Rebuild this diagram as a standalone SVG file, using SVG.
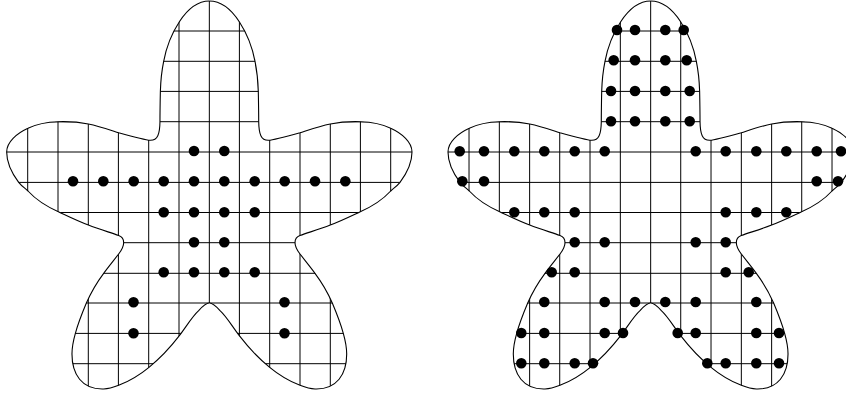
<svg xmlns="http://www.w3.org/2000/svg" xmlns:xlink="http://www.w3.org/1999/xlink" width="846" height="394" viewBox="0 0 846 394">
<style>
.o{fill:none;stroke:#000;stroke-width:1.1}
.g{stroke:#000;stroke-width:1;fill:none}
.d{fill:#000}
</style>
<defs>
<path id="half" d="M209.33 1C221 1 231 9 239.3 21.7C248 35 252.5 48 255 61.3C257 71 258 81 258.3 91.3C258.5 101 258.7 111 258.7 121.7C258.9 134 261 140.5 268.5 140.3C273 140 288 136 300 132.7C310 129.5 320 126 330.3 124C340 122 350 121.4 360.3 121.7C372 122 382 124 390.7 128.3C402 133.5 412 142 412 152C412 163 407 173 400 182.3C397 186 394 188 390.7 191C381 201.5 371 207 360.3 211.7C350 216.5 341 221 330.3 225C320 229 310 232 300 235.5C297 236.5 295 239 295 242.7C295 246 297 250 300 254C305 260.5 310 266.5 315 273.3C321.5 282 327.5 292 332.3 303C336.5 313 340.5 323 343.3 333.3C345.2 340 346.7 347 346.7 354C346.7 374 337 389.7 315 389C310 388.8 305 387.2 300 385.3C289 381 279 375 269.7 367.3C258 358 248 347 239.3 335.7C232 326 226 316 220 310.7C216 306 213 303 209.33 303"/>
<clipPath id="star">
<use xlink:href="#half"/>
<use xlink:href="#half" transform="matrix(-1 0 0 1 418.67 0)"/>
</clipPath>
<g id="figure">
<g clip-path="url(#star)">
<path class="g" d="M27.7 0V394M58 0V394M88.3 0V394M118.4 0V394M148.7 0V394M179 0V394M209.33 0V303M239.4 0V394M269.7 0V394M300 0V394M330.3 0V394M360.4 0V394M390.7 0V394"/>
<path class="g" d="M0 31H420M0 61.3H420M0 91.4H420M0 121.7H420M0 152H420M0 182.4H420M0 212.5H420M0 242.7H420M0 273.3H420M0 303H420M0 333.4H420M0 363.7H420"/>
</g>
<use xlink:href="#half" class="o"/>
<use xlink:href="#half" class="o" transform="matrix(-1 0 0 1 418.67 0)"/>
</g>
</defs>
<g id="left-figure">
<use xlink:href="#figure"/>
<g class="d">
<circle cx="194" cy="151" r="5.3"/><circle cx="224.3" cy="151" r="5.3"/>
<circle cx="73" cy="181.3" r="5.3"/><circle cx="103.3" cy="181.3" r="5.3"/><circle cx="133.7" cy="181.3" r="5.3"/><circle cx="163.7" cy="181.3" r="5.3"/><circle cx="194" cy="181.3" r="5.3"/><circle cx="224.3" cy="181.3" r="5.3"/><circle cx="254.7" cy="181.3" r="5.3"/><circle cx="284.7" cy="181.3" r="5.3"/><circle cx="315" cy="181.3" r="5.3"/><circle cx="345.3" cy="181.3" r="5.3"/>
<circle cx="163.7" cy="212.3" r="5.3"/><circle cx="194" cy="212.3" r="5.3"/><circle cx="224.3" cy="212.3" r="5.3"/><circle cx="254.7" cy="212.3" r="5.3"/>
<circle cx="194" cy="242.3" r="5.3"/><circle cx="224.3" cy="242.3" r="5.3"/>
<circle cx="163.7" cy="272.3" r="5.3"/><circle cx="194" cy="272.3" r="5.3"/><circle cx="224.3" cy="272.3" r="5.3"/><circle cx="254.7" cy="272.3" r="5.3"/>
<circle cx="133.5" cy="302.2" r="5.3"/><circle cx="284.5" cy="302.2" r="5.3"/>
<circle cx="133.5" cy="333.2" r="5.3"/><circle cx="284.5" cy="333.2" r="5.3"/>
</g>
</g>
<g id="right-figure">
<use xlink:href="#figure" x="441.33"/>
<g class="d">
<circle cx="617" cy="30" r="5.3"/><circle cx="635" cy="30" r="5.3"/><circle cx="665.3" cy="30" r="5.3"/><circle cx="683.7" cy="30" r="5.3"/>
<circle cx="613.7" cy="60.3" r="5.3"/><circle cx="635" cy="60.3" r="5.3"/><circle cx="665.3" cy="60.3" r="5.3"/><circle cx="686.7" cy="60.3" r="5.3"/>
<circle cx="611" cy="91" r="5.3"/><circle cx="635" cy="91" r="5.3"/><circle cx="665.3" cy="91" r="5.3"/><circle cx="689.7" cy="91" r="5.3"/>
<circle cx="611" cy="121.3" r="5.3"/><circle cx="635" cy="121.3" r="5.3"/><circle cx="665.3" cy="121.3" r="5.3"/><circle cx="689.7" cy="121.3" r="5.3"/>
<circle cx="459.7" cy="151.3" r="5.3"/><circle cx="484" cy="151.3" r="5.3"/><circle cx="514.3" cy="151.3" r="5.3"/><circle cx="544.3" cy="151.3" r="5.3"/><circle cx="574.7" cy="151.3" r="5.3"/><circle cx="604.7" cy="151.3" r="5.3"/><circle cx="695.7" cy="151.3" r="5.3"/><circle cx="725.7" cy="151.3" r="5.3"/><circle cx="756.3" cy="151.3" r="5.3"/><circle cx="786.3" cy="151.3" r="5.3"/><circle cx="816.7" cy="151.3" r="5.3"/><circle cx="841" cy="151.3" r="5.3"/>
<circle cx="462.3" cy="181.3" r="5.3"/><circle cx="484" cy="181.3" r="5.3"/><circle cx="816.7" cy="181.3" r="5.3"/><circle cx="838" cy="181.3" r="5.3"/>
<circle cx="514.3" cy="212.3" r="5.3"/><circle cx="544.3" cy="212.3" r="5.3"/><circle cx="574.7" cy="212.3" r="5.3"/><circle cx="725.7" cy="212.3" r="5.3"/><circle cx="756.3" cy="212.3" r="5.3"/><circle cx="786.3" cy="212.3" r="5.3"/>
<circle cx="574.7" cy="242.3" r="5.3"/><circle cx="604.7" cy="242.3" r="5.3"/><circle cx="695.7" cy="242.3" r="5.3"/><circle cx="725.7" cy="242.3" r="5.3"/>
<circle cx="551.7" cy="272.3" r="5.3"/><circle cx="574.7" cy="272.3" r="5.3"/><circle cx="725.7" cy="272.3" r="5.3"/><circle cx="748.7" cy="272.3" r="5.3"/>
<circle cx="544.3" cy="302" r="5.3"/><circle cx="604.7" cy="302" r="5.3"/><circle cx="635" cy="302" r="5.3"/><circle cx="665.3" cy="302" r="5.3"/><circle cx="695.7" cy="302" r="5.3"/><circle cx="756.3" cy="302" r="5.3"/>
<circle cx="521.3" cy="333" r="5.3"/><circle cx="544.3" cy="333" r="5.3"/><circle cx="604.7" cy="333" r="5.3"/><circle cx="623" cy="333" r="5.3"/><circle cx="677.7" cy="333" r="5.3"/><circle cx="695.7" cy="333" r="5.3"/><circle cx="756.3" cy="333" r="5.3"/><circle cx="779" cy="333" r="5.3"/>
<circle cx="521.3" cy="363.3" r="5.3"/><circle cx="544.3" cy="363.3" r="5.3"/><circle cx="574.7" cy="363.3" r="5.3"/><circle cx="593" cy="363.3" r="5.3"/><circle cx="707.3" cy="363.3" r="5.3"/><circle cx="725.7" cy="363.3" r="5.3"/><circle cx="756.3" cy="363.3" r="5.3"/><circle cx="779" cy="363.3" r="5.3"/>
</g>
</g>
</svg>
